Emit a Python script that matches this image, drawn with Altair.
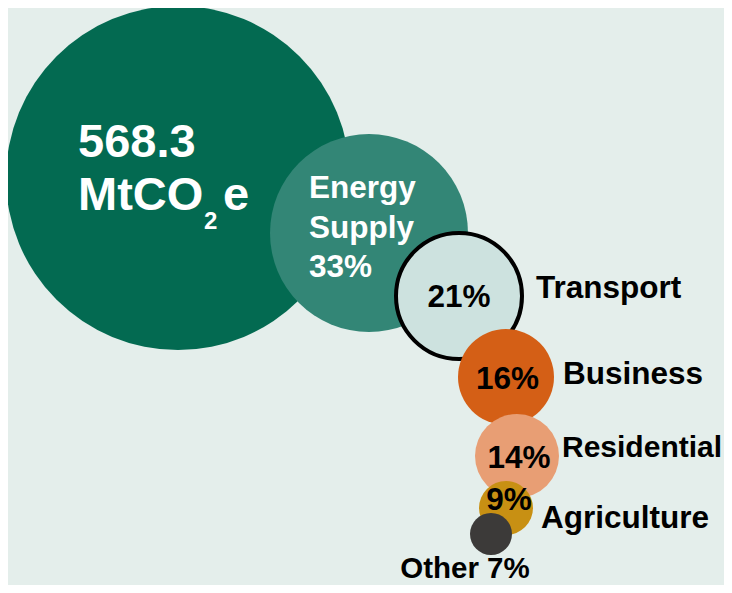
import altair as alt
import pandas as pd

# ---- data ----
total_label = "568.3"
unit_main = "MtCO"
unit_sub = "2"
unit_tail = "e"
categories = ["Energy Supply", "Transport", "Business", "Residential", "Agriculture", "Other"]
shares = [33, 21, 16, 14, 9, 7]

# ---- layout / style (kept apart from the data) ----
W, H = 716, 577
FONT = "Liberation Sans"
LABEL_FS = 31.5
fills = ["#338676", "#cde2df", "#d45f16", "#e89e74", "#c89013", "#3c3a39"]
strokes = ["transparent", "#000000", "transparent", "transparent", "transparent", "transparent"]
stroke_w = [0, 4, 0, 0, 0, 0]
bubble_x = [361, 451, 498, 509, 498, 483]
bubble_y = [225, 288, 369, 448, 500, 526]
big_x, big_y, big_r = 170, 170, 172

bubbles = pd.DataFrame({
    "category": categories, "share": shares, "fill": fills,
    "stroke": strokes, "sw": stroke_w, "bx": bubble_x, "by": bubble_y,
})

xs = alt.Scale(domain=[0, W], nice=False, zero=False)
ys = alt.Scale(domain=[0, H], nice=False, zero=False, reverse=True)

# Vega circle symbols: diameter = sqrt(size)
big = alt.Chart(pd.DataFrame({"bx": [big_x], "by": [big_y]})).mark_circle(
    opacity=1, color="#036a51", size=(2 * big_r) ** 2
).encode(
    x=alt.X("bx:Q", scale=xs, axis=None),
    y=alt.Y("by:Q", scale=ys, axis=None),
)

circles = alt.Chart(bubbles).mark_circle(opacity=1, strokeOpacity=1).encode(
    x=alt.X("bx:Q", scale=xs, axis=None),
    y=alt.Y("by:Q", scale=ys, axis=None),
    size=alt.Size("share:Q", scale=alt.Scale(type="pow", exponent=2, domain=[0, 100],
                                             range=[0, (2 * 300) ** 2]), legend=None),
    color=alt.Color("fill:N", scale=None),
    stroke=alt.Stroke("stroke:N", scale=None),
    strokeWidth=alt.StrokeWidth("sw:Q", scale=None),
    order=alt.Order("share:Q", sort="descending"),
)

# in-circle percentages (centered)
pct_pos_x = [451, 499.5, 511, 501]
pct_pos_y = [299, 381, 460, 502]
pct_df = pd.DataFrame({
    "text": [f"{s}%" for s in shares[1:5]],
    "tx": pct_pos_x, "ty": pct_pos_y,
})
pct_text = alt.Chart(pct_df).mark_text(
    font=FONT, fontWeight="bold", fontSize=LABEL_FS, align="center", baseline="alphabetic", color="#000000"
).encode(x=alt.X("tx:Q", scale=xs, axis=None), y=alt.Y("ty:Q", scale=ys, axis=None), text="text:N")

# category names to the right
name_x = [528, 555, 554, 533]
name_y = [290, 376, 449, 520]
name_fs = [31.5, 31.5, 30, 31.5]
name_df = pd.DataFrame({"text": categories[1:5], "tx": name_x, "ty": name_y, "fs": name_fs})
name_text = alt.Chart(name_df).mark_text(
    font=FONT, fontWeight="bold", align="left", baseline="alphabetic", color="#000000"
).encode(
    x=alt.X("tx:Q", scale=xs, axis=None), y=alt.Y("ty:Q", scale=ys, axis=None),
    text="text:N", size=alt.Size("fs:Q", scale=None),
)

# Energy Supply label (white, multi-line)
energy_df = pd.DataFrame({"text": ["Energy\nSupply\n" + f"{shares[0]}%"], "tx": [301], "ty": [190]})
energy_text = alt.Chart(energy_df).mark_text(
    font=FONT, fontWeight="bold", fontSize=LABEL_FS, align="left", baseline="alphabetic",
    color="#ffffff", lineBreak="\n", lineHeight=39.5
).encode(x=alt.X("tx:Q", scale=xs, axis=None), y=alt.Y("ty:Q", scale=ys, axis=None), text="text:N")

# Other label below
other_df = pd.DataFrame({"text": [f"{categories[5]} {shares[5]}%"], "tx": [457], "ty": [570]})
other_text = alt.Chart(other_df).mark_text(
    font=FONT, fontWeight="bold", fontSize=29.5, align="center", baseline="alphabetic", color="#000000"
).encode(x=alt.X("tx:Q", scale=xs, axis=None), y=alt.Y("ty:Q", scale=ys, axis=None), text="text:N")

# total in big circle
total_df = pd.DataFrame({
    "text": [total_label, unit_main, unit_tail, unit_sub],
    "tx": [70, 70, 215, 196], "ty": [149, 202, 202, 221], "fs": [47, 47, 47, 24],
})
total_text = alt.Chart(total_df).mark_text(
    font=FONT, fontWeight="bold", align="left", baseline="alphabetic", color="#ffffff"
).encode(
    x=alt.X("tx:Q", scale=xs, axis=None), y=alt.Y("ty:Q", scale=ys, axis=None),
    text="text:N", size=alt.Size("fs:Q", scale=None),
)

chart = alt.layer(big, circles, pct_text, name_text, energy_text, other_text, total_text).properties(
    width=W, height=H, padding=0, autosize=alt.AutoSizeParams(type="none"),
    background="#e4eeeb",
).configure_view(stroke=None)

chart.save("out.html", embed_options={"renderer": "svg", "actions": False})
